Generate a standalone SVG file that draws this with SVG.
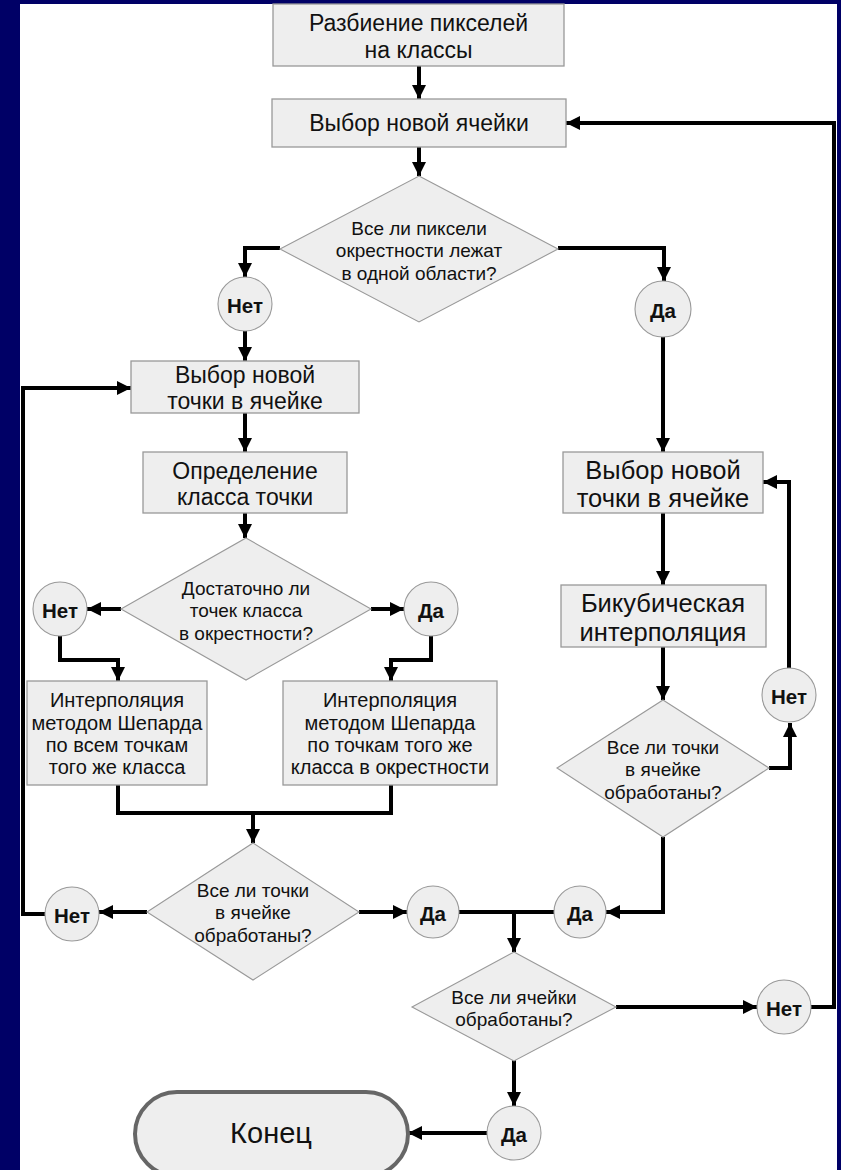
<svg xmlns="http://www.w3.org/2000/svg" width="841" height="1170" viewBox="0 0 841 1170">
<style>
.box{fill:#eeeeee;stroke:#999999;stroke-width:1.3}
.dia{fill:#eeeeee;stroke:#999999;stroke-width:1.1}
.cir{fill:#eeeeee;stroke:#999999;stroke-width:1.1}
.term{fill:#eeeeee;stroke:#666666;stroke-width:4}
.c{fill:none;stroke:#000000;stroke-width:4;stroke-linejoin:miter}
text{font-family:"Liberation Sans",Arial,sans-serif;fill:#111111;text-anchor:middle;dominant-baseline:central}
.t21{font-size:23px}
.t23{font-size:25.5px}
.t19{font-size:20px}
.t17{font-size:19px}
.lbl{font-size:20.5px;font-weight:bold}
.end{font-size:29px}
</style>
<defs>
<marker id="ah" markerUnits="userSpaceOnUse" markerWidth="16" markerHeight="14" refX="14" refY="7" orient="auto">
<path d="M0,0 L14,7 L0,14 z" fill="#000000"/>
</marker>
</defs>
<rect x="0" y="0" width="841" height="1170" fill="#000066"/>
<rect x="20" y="4" width="817" height="1170" fill="#ffffff"/>

<g id="connectors">
<path class="c" d="M419,66 V99" marker-end="url(#ah)"/>
<path class="c" d="M419,147 V176" marker-end="url(#ah)"/>
<path class="c" d="M280,248 H245 V277" marker-end="url(#ah)"/>
<path class="c" d="M558,248 H664 V281" marker-end="url(#ah)"/>
<path class="c" d="M245,331 V361" marker-end="url(#ah)"/>
<path class="c" d="M663,337 V452" marker-end="url(#ah)"/>
<path class="c" d="M245,413 V452" marker-end="url(#ah)"/>
<path class="c" d="M245,513 V538" marker-end="url(#ah)"/>
<path class="c" d="M121,609 H87" marker-end="url(#ah)"/>
<path class="c" d="M371,609 H404" marker-end="url(#ah)"/>
<path class="c" d="M60,636 V660 H118 V681" marker-end="url(#ah)"/>
<path class="c" d="M431,636 V660 H391 V681" marker-end="url(#ah)"/>
<path class="c" d="M118,785 V813 H391 V785"/>
<path class="c" d="M253,813 V843" marker-end="url(#ah)"/>
<path class="c" d="M147,912 H99" marker-end="url(#ah)"/>
<path class="c" d="M45,914 H23 V388 H131" marker-end="url(#ah)"/>
<path class="c" d="M359,912 H407" marker-end="url(#ah)"/>
<path class="c" d="M459,912 H554"/>
<path class="c" d="M514,912 V952" marker-end="url(#ah)"/>
<path class="c" d="M663,837 V912 H606" marker-end="url(#ah)"/>
<path class="c" d="M663,513 V585" marker-end="url(#ah)"/>
<path class="c" d="M663,647 V700" marker-end="url(#ah)"/>
<path class="c" d="M769,768 H790 V723" marker-end="url(#ah)"/>
<path class="c" d="M789,668 V482 H763" marker-end="url(#ah)"/>
<path class="c" d="M616,1007 H757" marker-end="url(#ah)"/>
<path class="c" d="M811,1007 H834 V123 H566" marker-end="url(#ah)"/>
<path class="c" d="M514,1060 V1106" marker-end="url(#ah)"/>
<path class="c" d="M487,1133 H408" marker-end="url(#ah)"/>
</g>

<g id="n1"><rect class="box" x="273" y="4" width="291" height="62"/>
<text class="t21" x="418.5" y="23">Разбиение пикселей</text>
<text class="t21" x="418.5" y="50">на классы</text></g>

<g id="n2"><rect class="box" x="272" y="99" width="294" height="48"/>
<text class="t21" x="419" y="123">Выбор новой ячейки</text></g>

<g id="n3"><polygon class="dia" points="419,176 558,249 419,322 280,249"/>
<text class="t17" x="419" y="228">Все ли пиксели</text>
<text class="t17" x="419" y="250">окрестности лежат</text>
<text class="t17" x="419" y="273">в одной области?</text></g>

<g id="n4"><circle class="cir" cx="245" cy="304" r="27"/><text class="lbl" x="245" y="305">Нет</text></g>
<g id="n5"><circle class="cir" cx="663" cy="309" r="28"/><text class="lbl" x="663" y="310">Да</text></g>

<g id="n6"><rect class="box" x="131" y="361" width="228" height="52"/>
<text class="t21" x="245" y="375">Выбор новой</text>
<text class="t21" x="245" y="401">точки в ячейке</text></g>

<g id="n7"><rect class="box" x="143" y="452" width="204" height="61"/>
<text class="t21" x="245" y="471">Определение</text>
<text class="t21" x="245" y="497">класса точки</text></g>

<g id="n8"><polygon class="dia" points="246,538 371,609 246,680 121,609"/>
<text class="t17" x="246" y="588">Достаточно ли</text>
<text class="t17" x="246" y="610">точек класса</text>
<text class="t17" x="246" y="633">в окрестности?</text></g>

<g id="n9"><circle class="cir" cx="60" cy="609" r="27"/><text class="lbl" x="60" y="610">Нет</text></g>
<g id="n10"><circle class="cir" cx="431" cy="609" r="27"/><text class="lbl" x="431" y="610">Да</text></g>

<g id="n11"><rect class="box" x="27" y="681" width="180" height="104"/>
<text class="t19" x="117" y="700">Интерполяция</text>
<text class="t19" x="117" y="723">методом Шепарда</text>
<text class="t19" x="117" y="745">по всем точкам</text>
<text class="t19" x="117" y="767">того же класса</text></g>

<g id="n12"><rect class="box" x="283" y="681" width="214" height="104"/>
<text class="t19" x="390" y="700">Интерполяция</text>
<text class="t19" x="390" y="723">методом Шепарда</text>
<text class="t19" x="390" y="745">по точкам того же</text>
<text class="t19" x="390" y="767">класса в окрестности</text></g>

<g id="n13"><polygon class="dia" points="253,843 359,912 253,980 147,912"/>
<text class="t17" x="253" y="890">Все ли точки</text>
<text class="t17" x="253" y="912">в ячейке</text>
<text class="t17" x="253" y="935">обработаны?</text></g>

<g id="n14"><circle class="cir" cx="72" cy="914" r="27"/><text class="lbl" x="72" y="915">Нет</text></g>
<g id="n15"><circle class="cir" cx="433" cy="912" r="26"/><text class="lbl" x="433" y="913">Да</text></g>
<g id="n16"><circle class="cir" cx="580" cy="912" r="26"/><text class="lbl" x="580" y="913">Да</text></g>

<g id="n17"><polygon class="dia" points="514,952 616,1007 514,1061 412,1007"/>
<text class="t17" x="514" y="997">Все ли ячейки</text>
<text class="t17" x="514" y="1019">обработаны?</text></g>

<g id="n18"><circle class="cir" cx="784" cy="1007" r="27"/><text class="lbl" x="784" y="1008">Нет</text></g>
<g id="n19"><circle class="cir" cx="514" cy="1133" r="27"/><text class="lbl" x="514" y="1134">Да</text></g>

<g id="n20"><rect class="term" x="135" y="1092" width="273" height="84" rx="42"/>
<text class="end" x="271" y="1133">Конец</text></g>

<g id="n21"><rect class="box" x="563" y="452" width="200" height="61"/>
<text class="t23" x="663" y="470">Выбор новой</text>
<text class="t23" x="663" y="498">точки в ячейке</text></g>

<g id="n22"><rect class="box" x="561" y="585" width="205" height="62"/>
<text class="t23" x="663" y="603">Бикубическая</text>
<text class="t23" x="663" y="632">интерполяция</text></g>

<g id="n23"><polygon class="dia" points="663,700 769,768 663,837 557,768"/>
<text class="t17" x="663" y="747">Все ли точки</text>
<text class="t17" x="663" y="769">в ячейке</text>
<text class="t17" x="663" y="792">обработаны?</text></g>

<g id="n24"><circle class="cir" cx="789" cy="695" r="27"/><text class="lbl" x="789" y="696">Нет</text></g>
</svg>
